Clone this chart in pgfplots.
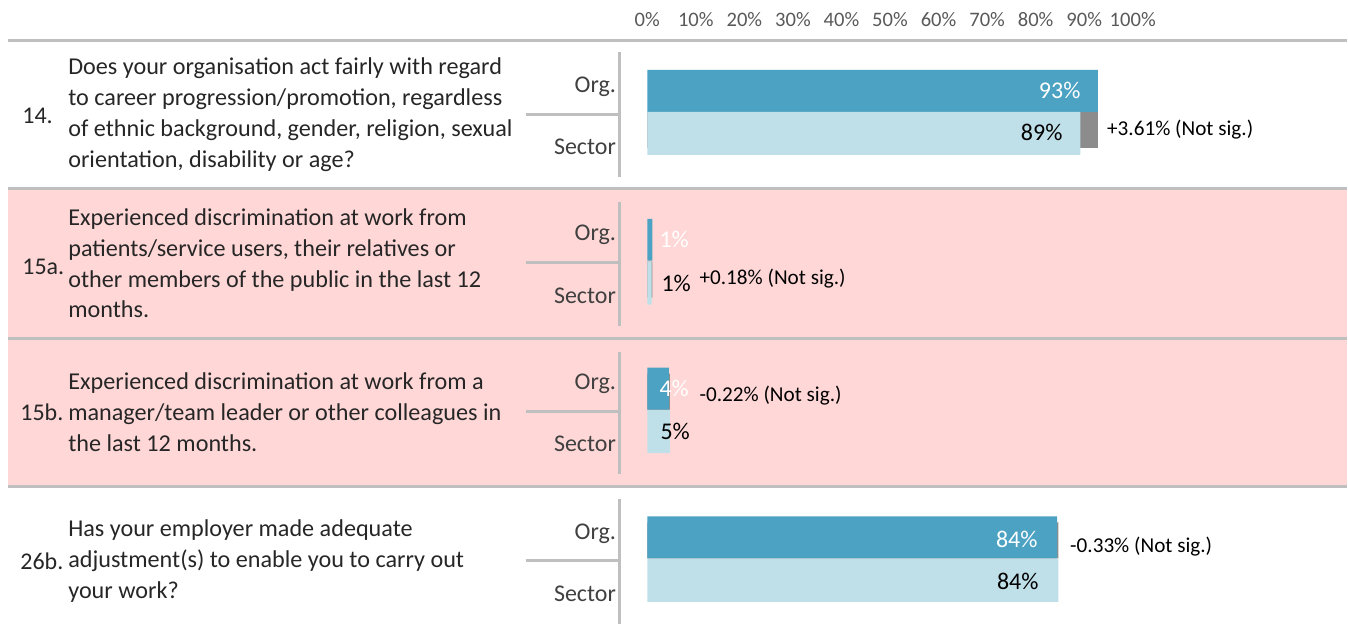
\documentclass[border=0pt]{standalone}
\usepackage{fontspec}
\setmainfont{Carlito}
\usepackage{pgfplots}
\pgfplotsset{compat=1.18}
\definecolor{OrgC}{HTML}{4BA2C3}
\definecolor{SecC}{HTML}{BFDFE9}
\definecolor{DiffC}{HTML}{8C8C8C}
\definecolor{Rule}{HTML}{BFBFBF}
\definecolor{Pink}{HTML}{FFD7D7}
\definecolor{Ink}{HTML}{262626}
\definecolor{Sub}{HTML}{404040}
\definecolor{Tick}{HTML}{595959}
% pixel column of the reference -> percent on the bar axis
\newcommand{\px}[1]{(#1-648)/4.86}

\begin{document}
\begin{tikzpicture}[
  q/.style={anchor=west,align=left,text=Ink,inner sep=0pt,font=\fontsize{12.1}{15.5}\selectfont},
  num/.style={anchor=west,text=Ink,inner sep=0pt,font=\fontsize{12}{15.5}\selectfont},
  cat/.style={anchor=east,text=Sub,inner sep=0pt,font=\fontsize{12}{15.5}\selectfont},
  val/.style={anchor=east,inner sep=0pt,font=\fontsize{12}{15.5}\selectfont},
  dif/.style={anchor=west,text=black,inner sep=0pt,font=\fontsize{10.6}{13}\selectfont},
  tk/.style={anchor=center,text=Tick,inner sep=0pt,font=\fontsize{10.3}{12}\selectfont},
  rule/.style={draw=Rule,line width=1.5pt}
]
\begin{axis}[
  scale only axis,width=674pt,height=314.5pt,
  xmin=-133.333,xmax=144.033,ymin=0,ymax=629,y dir=reverse,
  axis line style={draw=none},xtick=\empty,ytick=\empty,clip=false
]
% shaded rows
\fill[Pink] (axis cs:{\px{8}},189) rectangle (axis cs:{\px{1348}},487.5);
% horizontal rules
\draw[rule] (axis cs:{\px{8}},40.5) -- (axis cs:{\px{1348}},40.5);
\draw[rule] (axis cs:{\px{8}},189) -- (axis cs:{\px{1348}},189);
\draw[rule] (axis cs:{\px{8}},338.5) -- (axis cs:{\px{1348}},338.5);
\draw[rule] (axis cs:{\px{8}},487.5) -- (axis cs:{\px{1348}},487.5);
% Org/Sector separators
\draw[rule] (axis cs:{\px{620}},52) -- (axis cs:{\px{620}},177);
\draw[rule] (axis cs:{\px{620}},202) -- (axis cs:{\px{620}},326);
\draw[rule] (axis cs:{\px{620}},352) -- (axis cs:{\px{620}},475);
\draw[rule] (axis cs:{\px{620}},500) -- (axis cs:{\px{620}},625);
\draw[rule] (axis cs:{\px{527}},114.5) -- (axis cs:{\px{620}},114.5);
\draw[rule] (axis cs:{\px{527}},263) -- (axis cs:{\px{620}},263);
\draw[rule] (axis cs:{\px{527}},412) -- (axis cs:{\px{620}},412);
\draw[rule] (axis cs:{\px{527}},561) -- (axis cs:{\px{620}},561);

% difference markers (grey), then Org and Sector bars
\addplot[xbar,bar width=36,bar shift=0pt,fill=DiffC,draw=none]
  coordinates {(92.8,130) (1.05,280) (4.67,392) (84.7,541)};
\addplot[xbar,bar width=42,bar shift=0pt,fill=OrgC,draw=none]
  coordinates {(92.8,91) (1.05,240) (4.45,389) (84.4,538)};
\addplot[xbar,bar width=43,bar shift=0pt,fill=SecC,draw=none]
  coordinates {(89.2,133.5) (0.87,283.5) (4.67,432) (84.7,581)};

% scale labels
\node[tk] at (axis cs:0,20) {0\%};
\node[tk] at (axis cs:10,20) {10\%};
\node[tk] at (axis cs:20,20) {20\%};
\node[tk] at (axis cs:30,20) {30\%};
\node[tk] at (axis cs:40,20) {40\%};
\node[tk] at (axis cs:50,20) {50\%};
\node[tk] at (axis cs:60,20) {60\%};
\node[tk] at (axis cs:70,20) {70\%};
\node[tk] at (axis cs:80,20) {80\%};
\node[tk] at (axis cs:90,20) {90\%};
\node[tk] at (axis cs:100,20) {100\%};

% questions
\node[num] at (axis cs:{\px{22}},116) {14.};
\node[num] at (axis cs:{\px{22}},267) {15a.};
\node[num] at (axis cs:{\px{20}},413) {15b.};
\node[num] at (axis cs:{\px{20}},562) {26b.};
\node[q] at (axis cs:{\px{68}},114.5) {Does your organisation act fairly with regard\\to career progression/promotion, regardless\\of ethnic background, gender, religion, sexual\\orientation, disability or age?};
\node[q] at (axis cs:{\px{68}},263.5) {Experienced discrimination at work from\\patients/service users, their relatives or\\other members of the public in the last 12\\months.};
\node[q] at (axis cs:{\px{68}},412.5) {Experienced discrimination at work from a\\manager/team leader or other colleagues in\\the last 12 months.};
\node[q] at (axis cs:{\px{68}},561.5) {Has your employer made adequate\\adjustment(s) to enable you to carry out\\your work?};

% Org / Sector
\node[cat] at (axis cs:{\px{617}},87) {Org.};
\node[cat] at (axis cs:{\px{617}},147) {Sector};
\node[cat] at (axis cs:{\px{617}},235) {Org.};
\node[cat] at (axis cs:{\px{617}},296) {Sector};
\node[cat] at (axis cs:{\px{617}},384) {Org.};
\node[cat] at (axis cs:{\px{617}},444) {Sector};
\node[cat] at (axis cs:{\px{617}},534) {Org.};
\node[cat] at (axis cs:{\px{617}},594) {Sector};

% bar values
\node[val,text=white] at (axis cs:{\px{1082}},91) {93\%};
\node[val,text=black] at (axis cs:{\px{1064}},133) {89\%};
\node[val,text=white] at (axis cs:{\px{690}},240) {1\%};
\node[val,text=black] at (axis cs:{\px{692}},284) {1\%};
\node[val,text=white] at (axis cs:{\px{690}},389) {4\%};
\node[val,text=black] at (axis cs:{\px{691}},432) {5\%};
\node[val,text=white] at (axis cs:{\px{1039}},540) {84\%};
\node[val,text=black] at (axis cs:{\px{1040}},582) {84\%};

% differences
\node[dif] at (axis cs:{\px{1108}},130) {+3.61\% (Not sig.)};
\node[dif] at (axis cs:{\px{700}},279) {+0.18\% (Not sig.)};
\node[dif] at (axis cs:{\px{700}},396) {-0.22\% (Not sig.)};
\node[dif] at (axis cs:{\px{1071}},547) {-0.33\% (Not sig.)};
\end{axis}
\end{tikzpicture}
\end{document}
